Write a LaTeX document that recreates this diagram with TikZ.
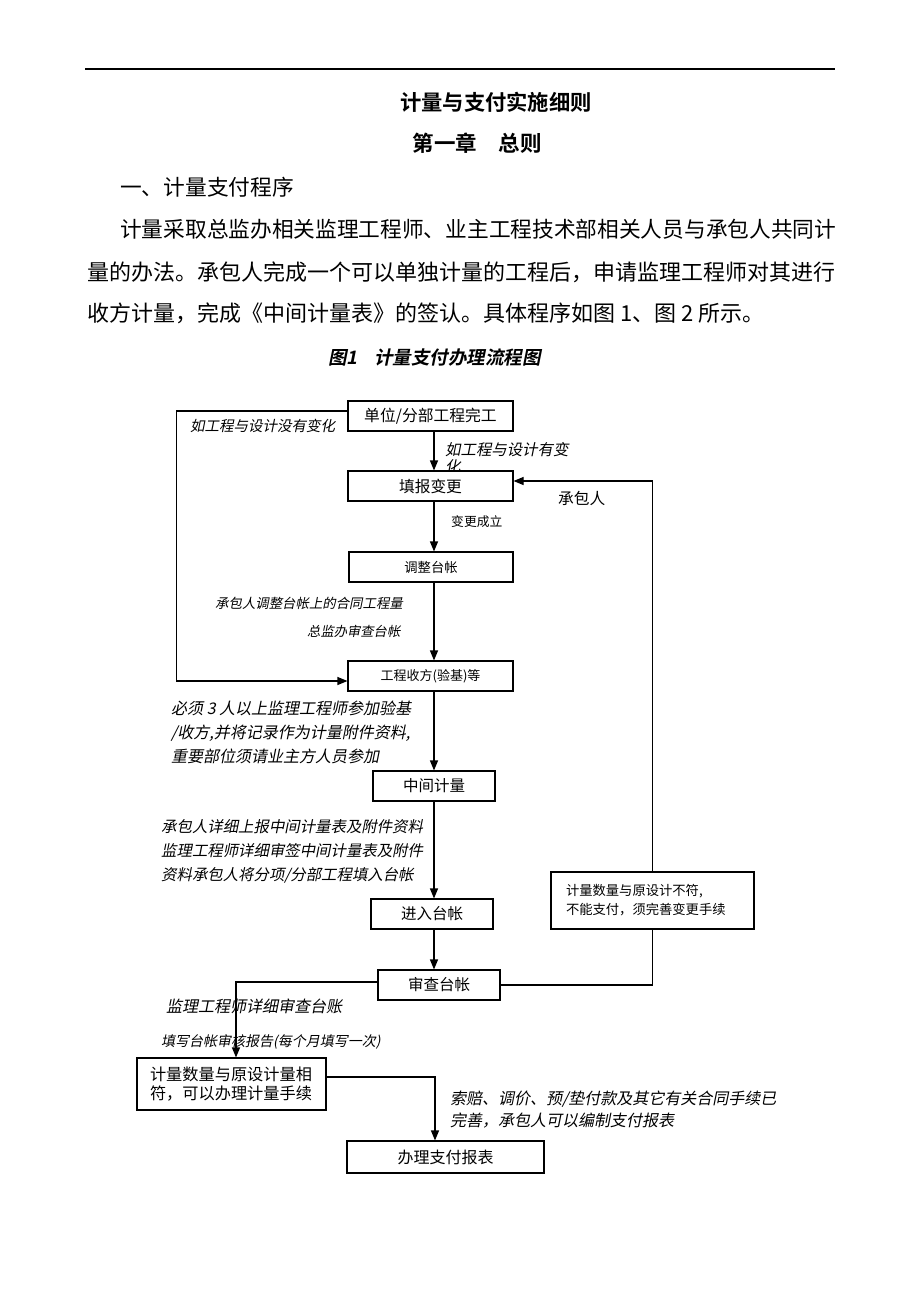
\documentclass[tikz,border=0pt]{standalone}
\usepackage{fontspec}
\setmainfont{Noto Sans CJK SC}[BoldFont={Noto Sans CJK SC Bold}]
\newfontfamily\itf{Noto Sans CJK SC}[FakeSlant=0.2]
\newfontfamily\bitf{Noto Sans CJK SC Bold}[FakeSlant=0.2]
\usetikzlibrary{arrows.meta}
\newcommand\myfs[2][1.2]{\fontsize{#2}{#1\dimexpr #2pt\relax}\selectfont}
\tikzset{
  box/.style={draw, line width=1.1pt, fill=white, inner sep=0pt},
  lab/.style={inner sep=0pt, anchor=west},
  ln/.style={line width=1.1pt},
  arr/.style={line width=1.1pt, -{Triangle[length=10pt,width=8pt]}},
}
\begin{document}
\begin{tikzpicture}[x=1pt,y=-1pt]
\useasboundingbox (0,0) rectangle (920,1302);
% header
\draw[line width=1.3pt] (85,69) -- (835,69);
\node[inner sep=0pt] (title) at (496,102) {\myfs{21.3}\bfseries 计量与支付实施细则};
\node[inner sep=0pt] (chap) at (477,143) {\myfs{21.5}\bfseries 第一章\hspace{1em}总则};
\node[lab] (sec) at (120,187) {\myfs{21.7}一、计量支付程序};
\node[lab] (p1) at (120,229) {\myfs{21.7}计量采取总监办相关监理工程师、业主工程技术部相关人员与承包人共同计};
\node[lab] (p2) at (87,272) {\myfs{22}量的办法。承包人完成一个可以单独计量的工程后，申请监理工程师对其进行};
\node[lab] (p3) at (87,313) {\myfs{22}收方计量，完成《中间计量表》的签认。具体程序如图 1、图 2 所示。};
\node[inner sep=0pt] (cap) at (434.5,358) {\myfs{18.5}\bitf 图1\hspace{0.9em}计量支付办理流程图};

% label partly hidden by box
\node[lab, align=left, font={\myfs[1.1]{15.4}\itf}] (l2) at (445,458.5) {如工程与设计有变\\化};

% boxes
\node[box, minimum width=165, minimum height=30] (b1) at (430.5,416) {\myfs{15.8}单位/分部工程完工};
\node[box, minimum width=165, minimum height=30] (b2) at (430.5,486) {\myfs{15.7}填报变更};
\node[box, minimum width=164, minimum height=30] (b3) at (431,567) {\myfs{13.3}调整台帐};
\node[box, minimum width=165, minimum height=30] (b4) at (430.5,676) {\myfs{13}工程收方(验基)等};
\node[box, minimum width=122, minimum height=30] (zj) at (434,786) {\myfs{15.5}中间计量};
\node[box, minimum width=122, minimum height=30] (jr) at (432,914) {\myfs{15.5}进入台帐};
\node[box, minimum width=122, minimum height=30] (sc) at (439,985) {\myfs{15.5}审查台帐};
\node[box, minimum width=203, minimum height=57, inner xsep=15pt, text width=173pt, align=left, font={\myfs[1.43]{13.3}}] (rb) at (652.5,900.5)
  {计量数量与原设计不符,\\不能支付，须完善变更手续};
\node[box, minimum width=189, minimum height=52, inner xsep=13pt, text width=163pt, align=left, font={\myfs[1.15]{16.2}}] (lb) at (231.5,1084)
  {计量数量与原设计量相\\符，可以办理计量手续};
\node[box, minimum width=197, minimum height=32] (pay) at (445.5,1157) {\myfs{16}办理支付报表};

% labels
\node[lab] (l1) at (190,426) {\myfs{14.5}\itf 如工程与设计没有变化};
\node[lab] (l3) at (451,522) {\myfs{12.8}变更成立};
\node[lab] (l4) at (558,498) {\myfs{15.7}承包人};
\node[lab] (l5) at (215,603) {\myfs{13.4}\itf 承包人调整台帐上的合同工程量};
\node[lab] (l6) at (307,631) {\myfs{13.3}\itf 总监办审查台帐};
\node[lab, align=left, font={\myfs[1.52]{16}\itf}] (l7) at (171,732.5) {必须 3 人以上监理工程师参加验基\\/收方,并将记录作为计量附件资料,\\重要部位须请业主方人员参加};
\node[lab, align=left, font={\myfs[1.56]{15.4}\itf}] (l8) at (161,851) {承包人详细上报中间计量表及附件资料\\监理工程师详细审签中间计量表及附件\\资料承包人将分项/分部工程填入台帐};
\node[lab] (l9) at (166,1006) {\myfs{16}\itf 监理工程师详细审查台账};
\node[lab] (l10) at (161,1042) {\myfs{14}\itf 填写台帐审核报告(每个月填写一次)};
\node[lab, align=left, font={\myfs[1.37]{16}\itf}] (l11) at (450,1110) {索赔、调价、预/垫付款及其它有关合同手续已\\完善，承包人可以编制支付报表};

% connectors
\coordinate (ax) at (434,0);
\draw[arr] (b1.south -| ax) -- (b2.north -| ax);
\draw[arr] (b2.south -| ax) -- (b3.north -| ax);
\draw[arr] (b3.south -| ax) -- (b4.north -| ax);
\draw[arr] (b4.south -| ax) -- (zj.north -| ax);
\draw[arr] (zj.south -| ax) -- (jr.north -| ax);
\draw[arr] (jr.south -| ax) -- (sc.north -| ax);
\draw[arr] ([yshift=5pt]b1.west) -- ++(-171,0) |- ([yshift=-5pt]b4.west);
\draw[ln] (sc.east) -| (rb.south);
\draw[arr] (rb.north) |- ([yshift=5pt]b2.east);
\draw[arr] ([yshift=3pt]sc.west) -| ([xshift=4.5pt]lb.north);
\draw[arr] ([yshift=7pt]lb.east) -| ([xshift=-10.5pt]pay.north);
\end{tikzpicture}
\end{document}
